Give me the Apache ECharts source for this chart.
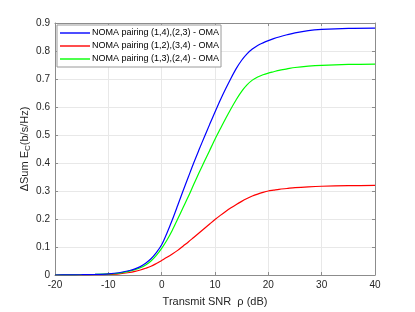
<!DOCTYPE html>
<html><head><meta charset="utf-8">
<script src="https://cdn.jsdelivr.net/npm/echarts@6/dist/echarts.min.js"></script>
<style>html,body{margin:0;padding:0;background:#fff}#c{width:415px;height:312px}</style>
</head><body><div id="c"></div>
<script>
const seriesNames = ['NOMA pairing (1,4),(2,3) - OMA','NOMA pairing (1,2),(3,4) - OMA','NOMA pairing (1,3),(2,4) - OMA'];
const xTicks = [-20,-10,0,10,20,30,40];
const yTicks = [0,0.1,0.2,0.3,0.4,0.5,0.6,0.7,0.8,0.9];
const snr = [-20,-17.5,-15,-12.5,-10,-8,-6,-5,-4,-3,-2,-1,0,1,2,3,4,5,6,7,8,9,10,11,12,13,14,15,16,17,18,19,20,21,22,23.5,25,27.5,30,35,40];
const blue = [0,0.0005,0.001,0.002,0.004,0.008,0.016,0.022,0.03,0.042,0.058,0.08,0.108,0.15,0.197,0.248,0.30,0.35,0.40,0.447,0.493,0.538,0.582,0.625,0.665,0.703,0.738,0.767,0.79,0.807,0.82,0.829,0.837,0.844,0.85,0.858,0.865,0.873,0.877,0.881,0.882];
const red = [0,0.0003,0.0005,0.001,0.002,0.004,0.009,0.013,0.018,0.024,0.031,0.041,0.052,0.063,0.075,0.088,0.103,0.118,0.134,0.15,0.166,0.182,0.198,0.213,0.227,0.24,0.252,0.263,0.273,0.282,0.289,0.295,0.30,0.303,0.306,0.309,0.312,0.315,0.317,0.319,0.32];
const green = [0,0.0005,0.001,0.002,0.004,0.007,0.014,0.019,0.026,0.036,0.05,0.07,0.095,0.125,0.16,0.20,0.24,0.28,0.323,0.365,0.405,0.445,0.485,0.522,0.559,0.594,0.627,0.656,0.679,0.696,0.707,0.715,0.721,0.726,0.731,0.736,0.741,0.746,0.749,0.752,0.753];

const colors = ['#0000ff','#ff0000','#00ff00'];
const values = [blue, red, green];
const font = 'Liberation Sans, Arial, Helvetica, sans-serif';
const axisCol = '#8c8c8c';
const txtCol = '#262626';

const chart = echarts.init(document.getElementById('c'), null, {renderer:'canvas'});
const baseX = {type:'value', min:xTicks[0], max:xTicks[xTicks.length-1], interval:10};
const baseY = {type:'value', min:yTicks[0], max:yTicks[yTicks.length-1], interval:0.1};
chart.setOption({
  backgroundColor:'#fff',
  animation:false,
  grid:{left:55, right:40, top:23, bottom:34},
  legend:{
    orient:'vertical', left:57, top:25, icon:'rect', itemWidth:30, itemHeight:1.4, itemGap:1,
    padding:[2,2,2,3], borderColor:'#9a9a9a', borderWidth:1, backgroundColor:'#fff',
    textStyle:{fontFamily:font, fontSize:9, color:'#000', lineHeight:12, padding:[0,0,0,-3]},
    data:seriesNames
  },
  xAxis:[
    Object.assign({}, baseX, {position:'bottom',
      name:'Transmit SNR  \u03c1 (dB)', nameLocation:'middle', nameGap:21, nameMoveOverlap:false,
      nameTextStyle:{fontFamily:font, fontSize:11, color:txtCol},
      axisLine:{onZero:false, lineStyle:{color:axisCol, width:1}},
      axisTick:{inside:true, length:3, lineStyle:{color:axisCol}},
      axisLabel:{fontFamily:font, fontSize:10, color:txtCol, margin:5,
        formatter:v=>String(v)},
      splitLine:{show:true, lineStyle:{color:'#e8e8e8', width:1}}}),
    Object.assign({}, baseX, {position:'top',
      axisLine:{onZero:false, lineStyle:{color:axisCol, width:1}},
      axisTick:{inside:true, length:3, lineStyle:{color:axisCol}},
      axisLabel:{show:false}, splitLine:{show:false}})
  ],
  yAxis:[
    Object.assign({}, baseY, {position:'left',
      name:'\u0394Sum E{sub|C}(b/s/Hz)', nameLocation:'middle', nameGap:23, nameMoveOverlap:false,
      nameTextStyle:{fontFamily:font, fontSize:11, color:txtCol, lineHeight:14,
        rich:{sub:{fontFamily:font, fontSize:8, color:txtCol, lineHeight:14, verticalAlign:'bottom'}}},
      axisLine:{onZero:false, lineStyle:{color:axisCol, width:1}},
      axisTick:{inside:true, length:3, lineStyle:{color:axisCol}},
      axisLabel:{fontFamily:font, fontSize:10, color:txtCol, margin:5,
        formatter:v=>String(Math.round(v*10)/10)},
      splitLine:{show:true, lineStyle:{color:'#e8e8e8', width:1}}}),
    Object.assign({}, baseY, {position:'right',
      axisLine:{onZero:false, lineStyle:{color:axisCol, width:1}},
      axisTick:{inside:true, length:3, lineStyle:{color:axisCol}},
      axisLabel:{show:false}, splitLine:{show:false}})
  ],
  series: seriesNames.map((n,i)=>({
    name:n, type:'line', xAxisIndex:0, yAxisIndex:0,
    symbol:'none', smooth:0.3, z:[3,2,2][i],
    color:colors[i],
    lineStyle:{color:colors[i], width:1.2},
    data: snr.map((x,k)=>[x, values[i][k]])
  }))
});
</script></body></html>
